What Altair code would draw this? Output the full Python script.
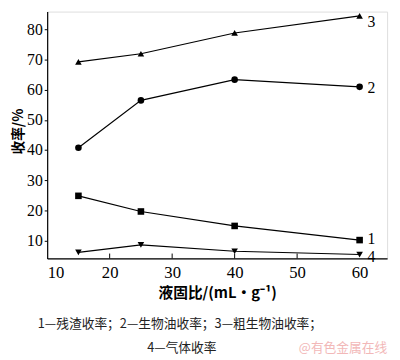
import altair as alt
import pandas as pd

# data
ratio = [15, 25, 40, 60]
residue = [24.8, 19.6, 14.8, 10.1]      # 1
biooil = [40.8, 56.5, 63.4, 61.0]       # 2
crude_oil = [69.3, 72.0, 78.9, 84.6]    # 3
gas = [6.0, 8.5, 6.4, 5.3]              # 4
series_ids = ["1", "2", "3", "4"]
series_vals = [residue, biooil, crude_oil, gas]
shapes = ["square", "circle", "triangle-up", "triangle-down"]
x_ticks = [10, 20, 30, 40, 50, 60]
y_ticks = [10, 20, 30, 40, 50, 60, 70, 80]
inner_ticks = [20, 30, 40, 50]

caption1 = "1—残渣收率；2—生物油收率；3—粗生物油收率；"
caption2 = "4—气体收率"
watermark = "@有色金属在线"

rows = []
for sid, vals in zip(series_ids, series_vals):
    for xv, yv in zip(ratio, vals):
        rows.append({"ratio": xv, "yield": yv, "s": sid})
df = pd.DataFrame(rows)
last = df[df["ratio"] == ratio[-1]]

W, H = 347, 252
SERIF = "Liberation Serif"
CJK = "Noto Sans CJK SC"

xs = alt.Scale(domain=[10, 64.4], nice=False, zero=False)
ys = alt.Scale(domain=[4, 86], nice=False, zero=False)

x_axis = alt.Axis(
    values=x_ticks, format="d", title="液固比/(mL·g⁻¹)",
    labelFont=SERIF, labelFontSize=17, labelColor="black", labelOverlap=False,
    labelPadding=6, tickSize=0, domainColor="black", domainWidth=1.2,
    titleFont=CJK, titleFontSize=15, titleFontWeight="bold", titleColor="black",
    titlePadding=6, grid=False)
y_axis = alt.Axis(
    values=y_ticks, format="d", title="收率/%",
    labelFont=SERIF, labelFontSize=16, labelColor="black", labelOverlap=False,
    labelPadding=2, tickSize=3, tickColor="black", domainColor="black",
    domainWidth=1.2, titleFont=CJK, titleFontSize=14, titleFontWeight="bold",
    titleColor="black", titleX=-22, titleY=H / 2 - 4, grid=False)
x_enc = alt.X("ratio:Q", scale=xs, axis=x_axis)
y_enc = alt.Y("yield:Q", scale=ys, axis=y_axis)

base = alt.Chart(df)
lines = base.mark_line(color="black", strokeWidth=1.2).encode(
    x=x_enc, y=y_enc, detail="s:N")
points = base.mark_point(filled=True, color="black", opacity=1, size=45).encode(
    x=x_enc, y=y_enc,
    shape=alt.Shape("s:N", scale=alt.Scale(domain=series_ids, range=shapes), legend=None))

label_dy = {"1": -1, "2": 1, "3": 6, "4": 3}
label_layers = []
for sid in series_ids:
    label_layers.append(
        alt.Chart(last[last["s"] == sid]).mark_text(
            font=SERIF, fontSize=16, align="left", dx=8, dy=label_dy[sid],
            color="black").encode(x=x_enc, y=y_enc, text="s:N"))

tick_df = pd.DataFrame({"ratio": inner_ticks})
ticks = alt.Chart(tick_df).mark_rule(color="black", strokeWidth=1).encode(
    x=x_enc, y=alt.value(H), y2=alt.value(H - 5))

cap = pd.DataFrame({"t": [caption1]})
c1 = alt.Chart(cap).mark_text(font=CJK, fontSize=13, color="#222222").encode(
    text="t:N", x=alt.value(W / 2 - 40 + 2), y=alt.value(H + 67))
cap2 = pd.DataFrame({"t": [caption2]})
c2 = alt.Chart(cap2).mark_text(font=CJK, fontSize=13, color="#222222").encode(
    text="t:N", x=alt.value(W / 2 - 40 + 4), y=alt.value(H + 92))
wm = pd.DataFrame({"t": [watermark]})
c3 = alt.Chart(wm).mark_text(font=CJK, fontSize=13, color="#f2b8b8").encode(
    text="t:N", x=alt.value(W - 45), y=alt.value(H + 92))

chart = alt.layer(lines, points, *label_layers, ticks, c1, c2, c3).properties(
    width=W, height=H,
    autosize=alt.AutoSizeParams(type="none"),
    padding={"left": 40, "top": 0, "right": 5, "bottom": 100},
).configure_view(
    stroke="black", strokeWidth=1.2
).configure(background="white")

chart.save("out.html", embed_options={"renderer": "svg", "actions": False})
